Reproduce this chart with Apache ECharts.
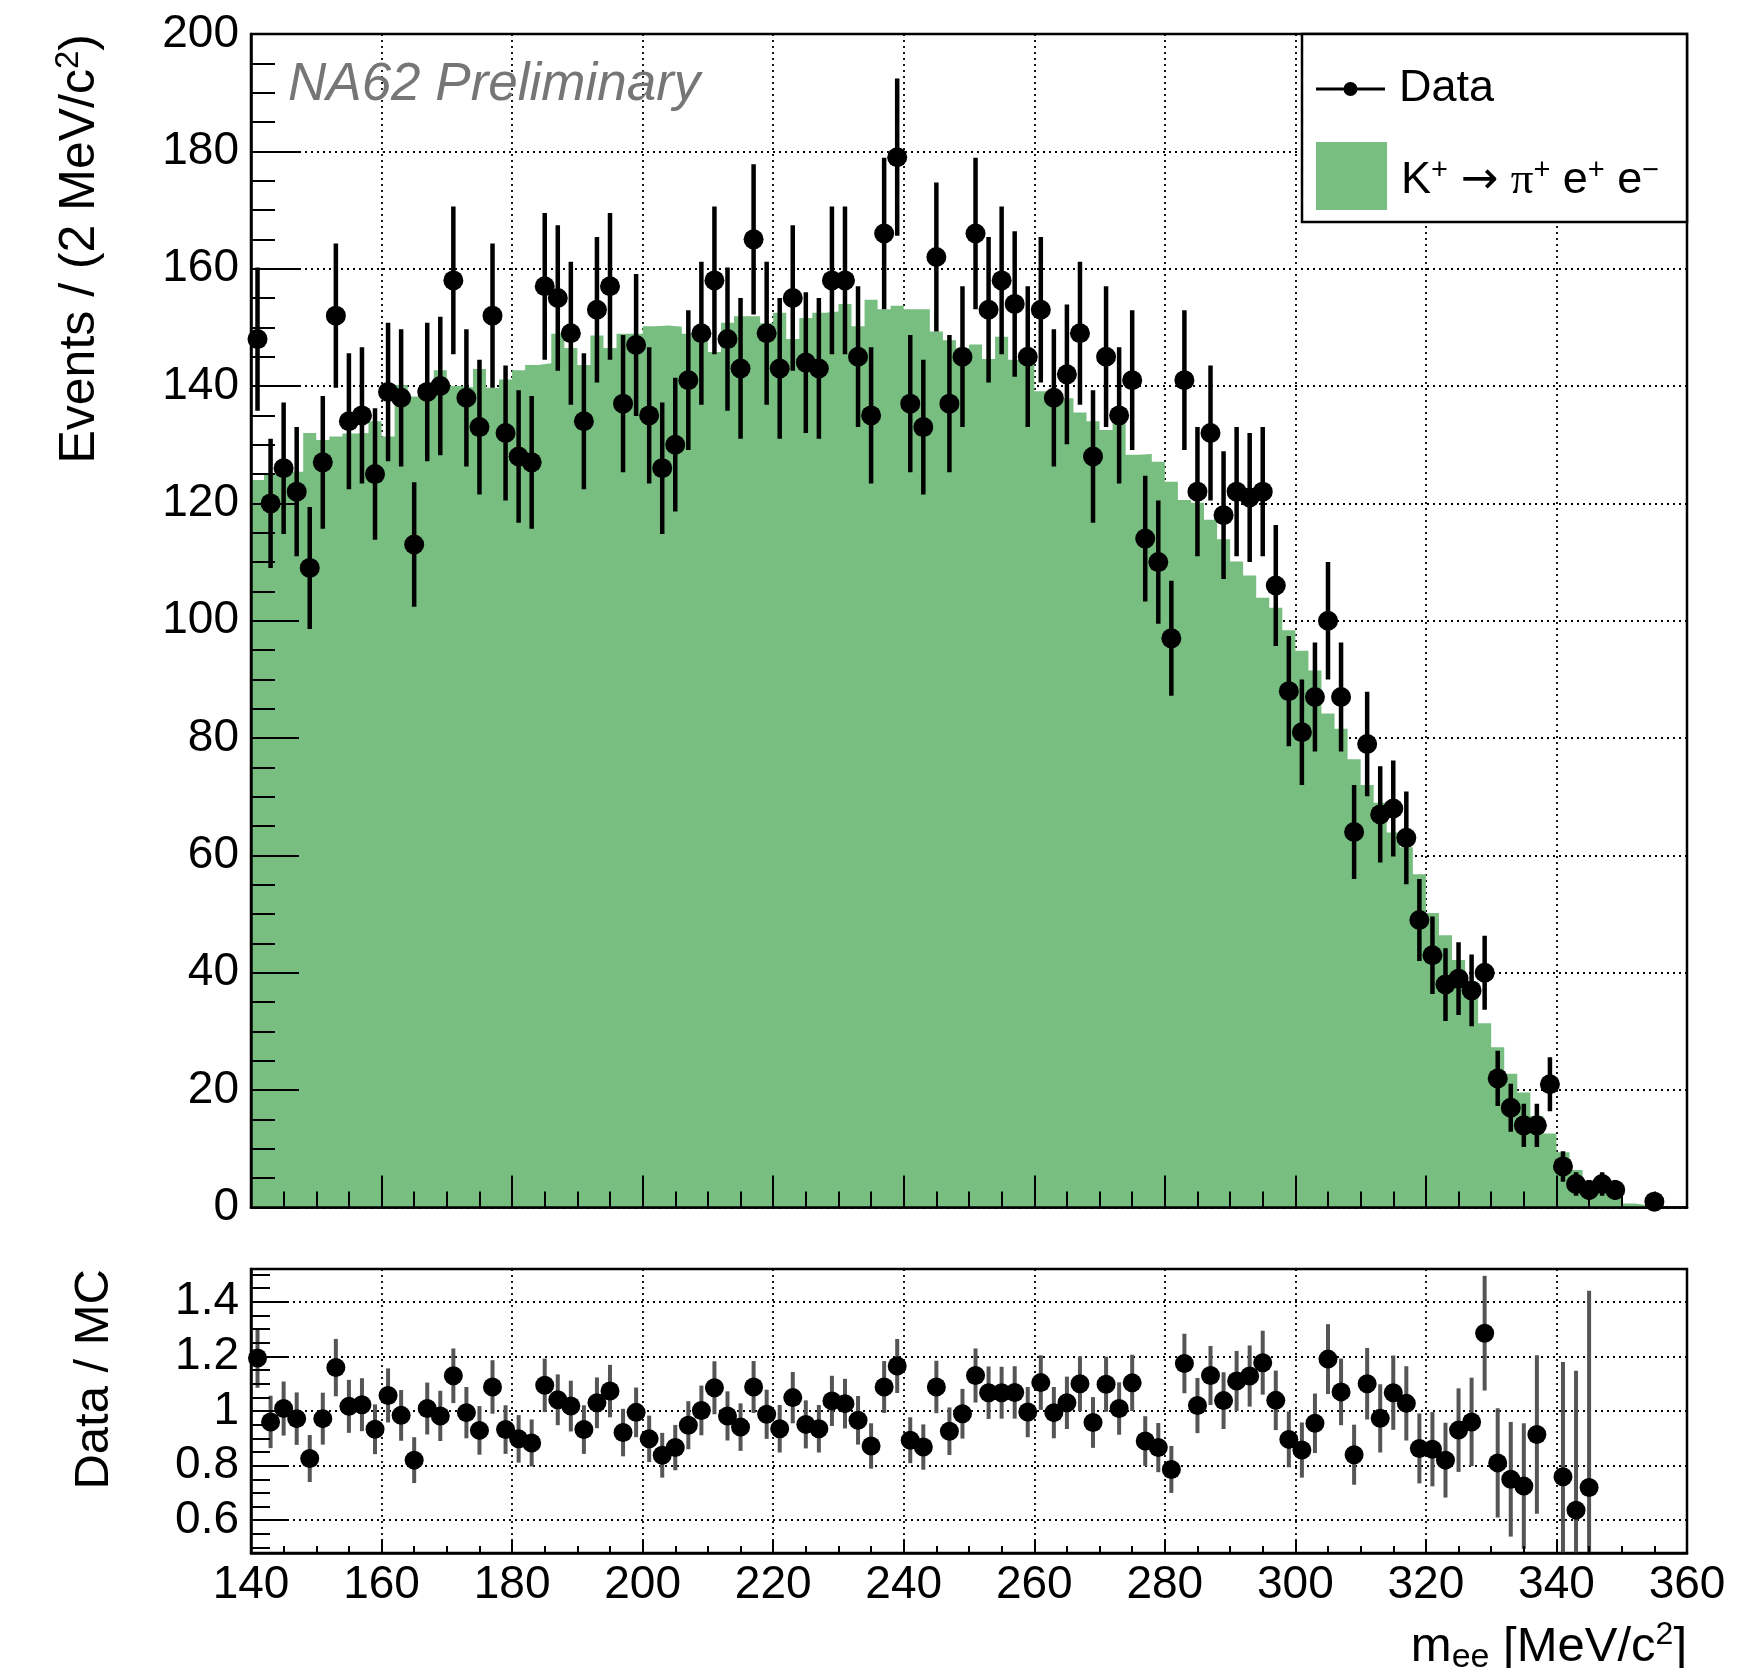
<!DOCTYPE html>
<html>
<head>
<meta charset="utf-8">
<title>NA62 m_ee</title>
<script src="https://cdn.jsdelivr.net/npm/echarts@6/dist/echarts.min.js"></script>
<style>
  html, body { margin: 0; padding: 0; background: #fff; }
  #chart { width: 1737px; height: 1668px; }
</style>
</head>
<body>
<div id="chart"></div>
<script>
// bin centres, 2 MeV/c2 bins from 140 to 360
const binCenters = [
  141, 143, 145, 147, 149, 151, 153, 155, 157, 159,
  161, 163, 165, 167, 169, 171, 173, 175, 177, 179,
  181, 183, 185, 187, 189, 191, 193, 195, 197, 199,
  201, 203, 205, 207, 209, 211, 213, 215, 217, 219,
  221, 223, 225, 227, 229, 231, 233, 235, 237, 239,
  241, 243, 245, 247, 249, 251, 253, 255, 257, 259,
  261, 263, 265, 267, 269, 271, 273, 275, 277, 279,
  281, 283, 285, 287, 289, 291, 293, 295, 297, 299,
  301, 303, 305, 307, 309, 311, 313, 315, 317, 319,
  321, 323, 325, 327, 329, 331, 333, 335, 337, 339,
  341, 343, 345, 347, 349, 351, 353, 355, 357, 359
]

// MC K+ -> pi+ e+ e- (green histogram)
const mcCounts = [
  124.0, 125.0, 125.0, 125.4, 132.0, 130.8, 131.4, 131.9, 132.0, 134.0,
  131.4, 140.2, 138.2, 138.2, 142.7, 140.0, 139.8, 142.9, 139.7, 141.1,
  142.7, 143.6, 143.9, 148.9, 146.5, 143.6, 148.6, 146.5, 148.9, 148.9,
  150.2, 150.3, 150.1, 148.9, 148.9, 145.8, 150.8, 151.9, 151.9, 150.7,
  152.5, 148.0, 151.6, 152.5, 152.7, 154.0, 150.2, 154.7, 153.1, 153.7,
  153.1, 153.1, 149.3, 147.8, 146.5, 147.1, 144.6, 148.4, 144.5, 145.5,
  139.1, 139.0, 137.9, 135.5, 134.0, 132.5, 134.2, 128.3, 128.4, 127.1,
  123.7, 120.6, 120.1, 117.2, 113.9, 110.1, 107.7, 103.9, 102.2, 98.4,
  94.9, 91.5, 84.2, 81.6, 76.4, 72.0, 69.0, 63.9, 61.4, 56.8,
  50.2, 46.4, 42.2, 38.5, 31.4, 27.3, 22.8, 19.6, 15.6, 12.6,
  9.4, 6.4, 4.3, 3.8, 2.6, 0.7, 0.4, 0, 0, 0
]

// data events per bin (null = empty bin)
const dataCounts = [
  148, 120, 126, 122, 109, 127, 152, 134, 135, 125,
  139, 138, 113, 139, 140, 158, 138, 133, 152, 132,
  128, 127, 157, 155, 149, 134, 153, 157, 137, 147,
  135, 126, 130, 141, 149, 158, 148, 143, 165, 149,
  143, 155, 144, 143, 158, 158, 145, 135, 166, 179,
  137, 133, 162, 137, 145, 166, 153, 158, 154, 145,
  153, 138, 142, 149, 128, 145, 135, 141, 114, 110,
  97, 141, 122, 132, 118, 122, 121, 122, 106, 88,
  81, 87, 100, 87, 64, 79, 67, 68, 63, 49,
  43, 38, 39, 37, 40, 22, 17, 14, 14, 21,
  7, 4, 3, 4, 3, null, null, 1, null, null
]

// half length of the data error bars
const dataErrors = [
  12.2, 11.0, 11.2, 11.0, 10.4, 11.3, 12.3, 11.6, 11.6, 11.2,
  11.8, 11.7, 10.6, 11.8, 11.8, 12.6, 11.7, 11.5, 12.3, 11.5,
  11.3, 11.3, 12.5, 12.4, 12.2, 11.6, 12.4, 12.5, 11.7, 12.1,
  11.6, 11.2, 11.4, 11.9, 12.2, 12.6, 12.2, 12.0, 12.8, 12.2,
  12.0, 12.4, 12.0, 12.0, 12.6, 12.6, 12.0, 11.6, 12.9, 13.4,
  11.7, 11.5, 12.7, 11.7, 12.0, 12.9, 12.4, 12.6, 12.4, 12.0,
  12.4, 11.7, 11.9, 12.2, 11.3, 12.0, 11.6, 11.9, 10.7, 10.5,
  9.8, 11.9, 11.0, 11.5, 10.9, 11.0, 11.0, 11.0, 10.3, 9.4,
  9.0, 9.3, 10.0, 9.3, 8.0, 8.9, 8.2, 8.2, 7.9, 7.0,
  6.6, 6.2, 6.2, 6.1, 6.3, 4.7, 4.1, 3.7, 3.7, 4.6,
  2.6, 2.0, 1.7, 2.0, 1.7, null, null, 1.0, null, null
]

// Data / MC (null = not drawn)
const ratioValues = [
  1.194, 0.960, 1.009, 0.972, 0.826, 0.972, 1.159, 1.017, 1.023, 0.933,
  1.057, 0.984, 0.820, 1.009, 0.982, 1.129, 0.994, 0.929, 1.088, 0.932,
  0.898, 0.883, 1.094, 1.041, 1.018, 0.932, 1.030, 1.073, 0.921, 0.995,
  0.898, 0.838, 0.866, 0.948, 1.002, 1.085, 0.982, 0.941, 1.088, 0.988,
  0.935, 1.049, 0.951, 0.935, 1.037, 1.027, 0.966, 0.872, 1.088, 1.165,
  0.893, 0.868, 1.088, 0.926, 0.990, 1.130, 1.067, 1.067, 1.068, 0.996,
  1.104, 0.994, 1.030, 1.100, 0.958, 1.098, 1.009, 1.103, 0.890, 0.866,
  0.786, 1.174, 1.020, 1.130, 1.038, 1.110, 1.128, 1.177, 1.039, 0.896,
  0.857, 0.955, 1.190, 1.070, 0.840, 1.100, 0.973, 1.067, 1.028, 0.863,
  0.860, 0.820, 0.930, 0.960, 1.285, 0.810, 0.750, 0.725, 0.914, null,
  0.759, 0.637, 0.720, null, null, null, null, null, null, null
]

const ratioErrors = [
  0.109, 0.096, 0.099, 0.096, 0.086, 0.095, 0.105, 0.097, 0.097, 0.091,
  0.099, 0.093, 0.084, 0.095, 0.092, 0.100, 0.094, 0.089, 0.098, 0.089,
  0.087, 0.086, 0.098, 0.093, 0.093, 0.089, 0.093, 0.096, 0.087, 0.091,
  0.085, 0.082, 0.083, 0.088, 0.091, 0.097, 0.090, 0.087, 0.095, 0.090,
  0.087, 0.094, 0.088, 0.087, 0.092, 0.091, 0.089, 0.083, 0.095, 0.099,
  0.084, 0.083, 0.096, 0.087, 0.091, 0.099, 0.096, 0.095, 0.096, 0.092,
  0.100, 0.094, 0.096, 0.100, 0.093, 0.101, 0.096, 0.103, 0.091, 0.090,
  0.086, 0.109, 0.101, 0.108, 0.104, 0.110, 0.112, 0.117, 0.109, 0.102,
  0.101, 0.109, 0.128, 0.122, 0.110, 0.131, 0.125, 0.136, 0.136, 0.128,
  0.136, 0.137, 0.153, 0.162, 0.210, 0.200, 0.210, 0.230, 0.290, null,
  0.420, 0.510, 0.720, null, null, null, null, null, null, null
]

const ratioTicks = [0.6, 0.8, 1, 1.2, 1.4]
const ratioMinorTicks = [0.5, 0.55, 0.65, 0.7, 0.75, 0.85, 0.9, 0.95,
  1.05, 1.1, 1.15, 1.25, 1.3, 1.35, 1.45, 1.5]

const FONT = '"Liberation Sans", Arial, sans-serif'
const GREEN = '#77be80'
const DOT = { color: '#000', width: 1.8, type: [2, 4] }

// step histogram drawn from the left bin edges
const histLine = binCenters.map((c, i) => [c - 1, mcCounts[i]])
histLine.push([binCenters[binCenters.length - 1] + 1, mcCounts[mcCounts.length - 1]])

const dataPts = []
const dataBars = []
const ratioPts = []
const ratioBars = []
binCenters.forEach((c, i) => {
  if (dataCounts[i] != null) {
    dataPts.push([c, dataCounts[i]])
    dataBars.push([c, dataCounts[i], dataErrors[i]])
  }
  if (ratioValues[i] != null) {
    ratioPts.push([c, ratioValues[i]])
    ratioBars.push([c, ratioValues[i], ratioErrors[i]])
  }
})

function errorBar(width, color) {
  return function (params, api) {
    const x = api.value(0)
    const y = api.value(1)
    const e = api.value(2)
    const p1 = api.coord([x, y + e])
    const p2 = api.coord([x, y - e])
    return {
      type: 'line',
      shape: { x1: p1[0], y1: p1[1], x2: p2[0], y2: p2[1] },
      style: { stroke: color, lineWidth: width }
    }
  }
}

const labelStyle = { fontSize: 46, fontFamily: FONT, color: '#000' }

const chart = echarts.init(document.getElementById('chart'))
chart.setOption({
  animation: false,
  backgroundColor: '#fff',
  grid: [
    { left: 251, top: 34, right: 50, height: 1173.5, show: true, borderColor: '#000', borderWidth: 2.5 },
    { left: 251, top: 1269, right: 50, height: 284, show: true, borderColor: '#000', borderWidth: 2.5 }
  ],
  xAxis: [
    // 0: main, grid lines only
    {
      gridIndex: 0, type: 'value', min: 140, max: 360, interval: 20,
      axisLine: { show: false }, axisTick: { show: false }, axisLabel: { show: false },
      splitLine: { show: true, lineStyle: DOT }
    },
    // 1: main, frame + ticks
    {
      gridIndex: 0, type: 'value', min: 140, max: 360, interval: 20, position: 'bottom', z: 5,
      axisLine: { show: true, onZero: false, lineStyle: { color: '#000', width: 2.5 } },
      axisTick: { show: true, inside: true, length: 32, lineStyle: { color: '#000', width: 2 } },
      minorTick: { show: true, splitNumber: 4, length: 16, lineStyle: { color: '#000', width: 2 } },
      axisLabel: { show: false }, splitLine: { show: false }
    },
    // 2: ratio, grid lines only
    {
      gridIndex: 1, type: 'value', min: 140, max: 360, interval: 20,
      axisLine: { show: false }, axisTick: { show: false }, axisLabel: { show: false },
      splitLine: { show: true, lineStyle: DOT }
    },
    // 3: ratio, frame + ticks + labels
    {
      gridIndex: 1, type: 'value', min: 140, max: 360, interval: 20, position: 'bottom', z: 5,
      axisLine: { show: true, onZero: false, lineStyle: { color: '#000', width: 2.5 } },
      axisTick: { show: true, inside: true, length: 13, lineStyle: { color: '#000', width: 2 } },
      minorTick: { show: true, splitNumber: 4, length: 7, lineStyle: { color: '#000', width: 2 } },
      axisLabel: Object.assign({ margin: 9 }, labelStyle),
      splitLine: { show: false }
    }
  ],
  yAxis: [
    // 0: main, grid lines only
    {
      gridIndex: 0, type: 'value', min: 0, max: 200, interval: 20, position: 'left',
      axisLine: { show: false }, axisTick: { show: false }, axisLabel: { show: false },
      splitLine: { show: true, lineStyle: DOT }
    },
    // 1: main, frame + ticks + labels
    {
      gridIndex: 0, type: 'value', min: 0, max: 200, interval: 20, position: 'left', z: 5,
      axisLine: { show: true, onZero: false, lineStyle: { color: '#000', width: 2.5 } },
      axisTick: { show: true, inside: true, length: 48, lineStyle: { color: '#000', width: 2 } },
      minorTick: { show: true, splitNumber: 4, length: 24, lineStyle: { color: '#000', width: 2 } },
      axisLabel: Object.assign({ margin: 12 }, labelStyle),
      splitLine: { show: false }
    },
    // 2: ratio, grid lines only
    {
      gridIndex: 1, type: 'value', min: 0.48, max: 1.52, splitNumber: 5, position: 'left',
      axisLine: { show: false }, axisTick: { show: false }, axisLabel: { show: false },
      splitLine: { show: true, lineStyle: DOT }
    },
    // 3: ratio, frame + major ticks + labels
    {
      gridIndex: 1, type: 'value', min: 0.48, max: 1.52, position: 'left', z: 5,
      axisLine: { show: true, onZero: false, lineStyle: { color: '#000', width: 2.5 } },
      axisTick: { show: true, inside: true, length: 38, customValues: ratioTicks, lineStyle: { color: '#000', width: 2 } },
      axisLabel: Object.assign({ margin: 12, customValues: ratioTicks }, labelStyle),
      splitLine: { show: false }
    },
    // 4: ratio, minor ticks
    {
      gridIndex: 1, type: 'value', min: 0.48, max: 1.52, position: 'left', z: 5,
      axisLine: { show: false },
      axisTick: { show: true, inside: true, length: 19, customValues: ratioMinorTicks, lineStyle: { color: '#000', width: 2 } },
      axisLabel: { show: false }, splitLine: { show: false }
    }
  ],
  legend: [
    {
      data: ['Data'], left: 1316, top: 64, orient: 'vertical', padding: 0, z: 11,
      selectedMode: false, itemWidth: 69, itemHeight: 14,
      icon: 'path://M0,5.5L69,5.5L69,8.5L0,8.5Z M41.5,7A7,7,0,1,1,27.5,7A7,7,0,1,1,41.5,7Z',
      itemStyle: { color: '#000', borderWidth: 0 },
      textStyle: { fontSize: 45, fontFamily: FONT, color: '#000', lineHeight: 50, padding: [0, 0, 0, 9] }
    },
    {
      data: ['K+ → π+ e+ e−'], left: 1316, top: 142, orient: 'vertical', padding: 0, z: 11,
      selectedMode: false, itemWidth: 71, itemHeight: 68, icon: 'rect',
      itemStyle: { color: GREEN, borderWidth: 0 },
      formatter: function () {
        return '{n|K}{s|+}{n| }{a|\u2192}{n| }{p|\u03c0}{s|+}{n| e}{s|+}{n| e}{s|\u2212}'
      },
      textStyle: {
        fontSize: 45, fontFamily: FONT, color: '#000', lineHeight: 50, padding: [10, 0, 0, 9],
        rich: {
          n: { fontSize: 45, fontFamily: FONT, lineHeight: 50 },
          a: { fontSize: 45, fontFamily: '"DejaVu Sans", sans-serif', lineHeight: 50 },
          p: { fontSize: 45, fontFamily: '"Liberation Serif", serif', lineHeight: 50 },
          s: { fontSize: 29, fontFamily: FONT, lineHeight: 30, verticalAlign: 'top' }
        }
      }
    }
  ],
  graphic: [
    {
      type: 'rect', z: 10, silent: true,
      shape: { x: 1302, y: 34, width: 385, height: 188 },
      style: { fill: '#fff', stroke: '#000', lineWidth: 2.5 }
    },
    {
      type: 'text', z: 10, silent: true, x: 288, y: 85,
      style: {
        text: 'NA62 Preliminary', fontSize: 53, fontStyle: 'italic', fontFamily: FONT,
        fill: '#767676', align: 'left', verticalAlign: 'middle'
      }
    },
    {
      type: 'text', z: 10, silent: true, x: 80, y: 34, rotation: Math.PI / 2,
      style: {
        text: '{n|Events / (2 MeV/c}{s|2}{n|)}', align: 'right', verticalAlign: 'middle', fill: '#000',
        rich: {
          n: { fontSize: 50, fontFamily: FONT, lineHeight: 56 },
          s: { fontSize: 33, fontFamily: FONT, lineHeight: 36, verticalAlign: 'top' }
        }
      }
    },
    {
      type: 'text', z: 10, silent: true, x: 94, y: 1269, rotation: Math.PI / 2,
      style: {
        text: 'Data / MC', fontSize: 49, fontFamily: FONT, fill: '#000',
        align: 'right', verticalAlign: 'middle'
      }
    },
    {
      type: 'text', z: 10, silent: true, x: 1687, y: 1647,
      style: {
        text: '{n|m}{b|ee}{n| [MeV/c}{s|2}{n|]}', align: 'right', verticalAlign: 'middle', fill: '#000',
        rich: {
          n: { fontSize: 49, fontFamily: FONT, lineHeight: 56 },
          b: { fontSize: 34, fontFamily: FONT, lineHeight: 40, verticalAlign: 'bottom' },
          s: { fontSize: 32, fontFamily: FONT, lineHeight: 36, verticalAlign: 'top' }
        }
      }
    }
  ],
  series: [
    {
      name: 'K+ → π+ e+ e−', type: 'line', xAxisIndex: 0, yAxisIndex: 0, z: 2,
      data: histLine, step: 'end', symbol: 'none', showSymbol: false,
      lineStyle: { width: 0, color: GREEN }, itemStyle: { color: GREEN },
      areaStyle: { color: GREEN, opacity: 1, origin: 'start' }
    },
    {
      type: 'custom', xAxisIndex: 0, yAxisIndex: 0, z: 3, clip: true,
      data: dataBars, encode: { x: 0, y: 1 }, renderItem: errorBar(4.5, '#000')
    },
    {
      name: 'Data', type: 'scatter', xAxisIndex: 0, yAxisIndex: 0, z: 4,
      data: dataPts, symbol: 'circle', symbolSize: 20, itemStyle: { color: '#000', opacity: 1 }
    },
    {
      type: 'custom', xAxisIndex: 2, yAxisIndex: 2, z: 3, clip: true,
      data: ratioBars, encode: { x: 0, y: 1 }, renderItem: errorBar(4, '#555')
    },
    {
      name: 'ratio', type: 'scatter', xAxisIndex: 2, yAxisIndex: 2, z: 4,
      data: ratioPts, symbol: 'circle', symbolSize: 19, itemStyle: { color: '#000', opacity: 1 }
    }
  ]
})
</script>
</body>
</html>
